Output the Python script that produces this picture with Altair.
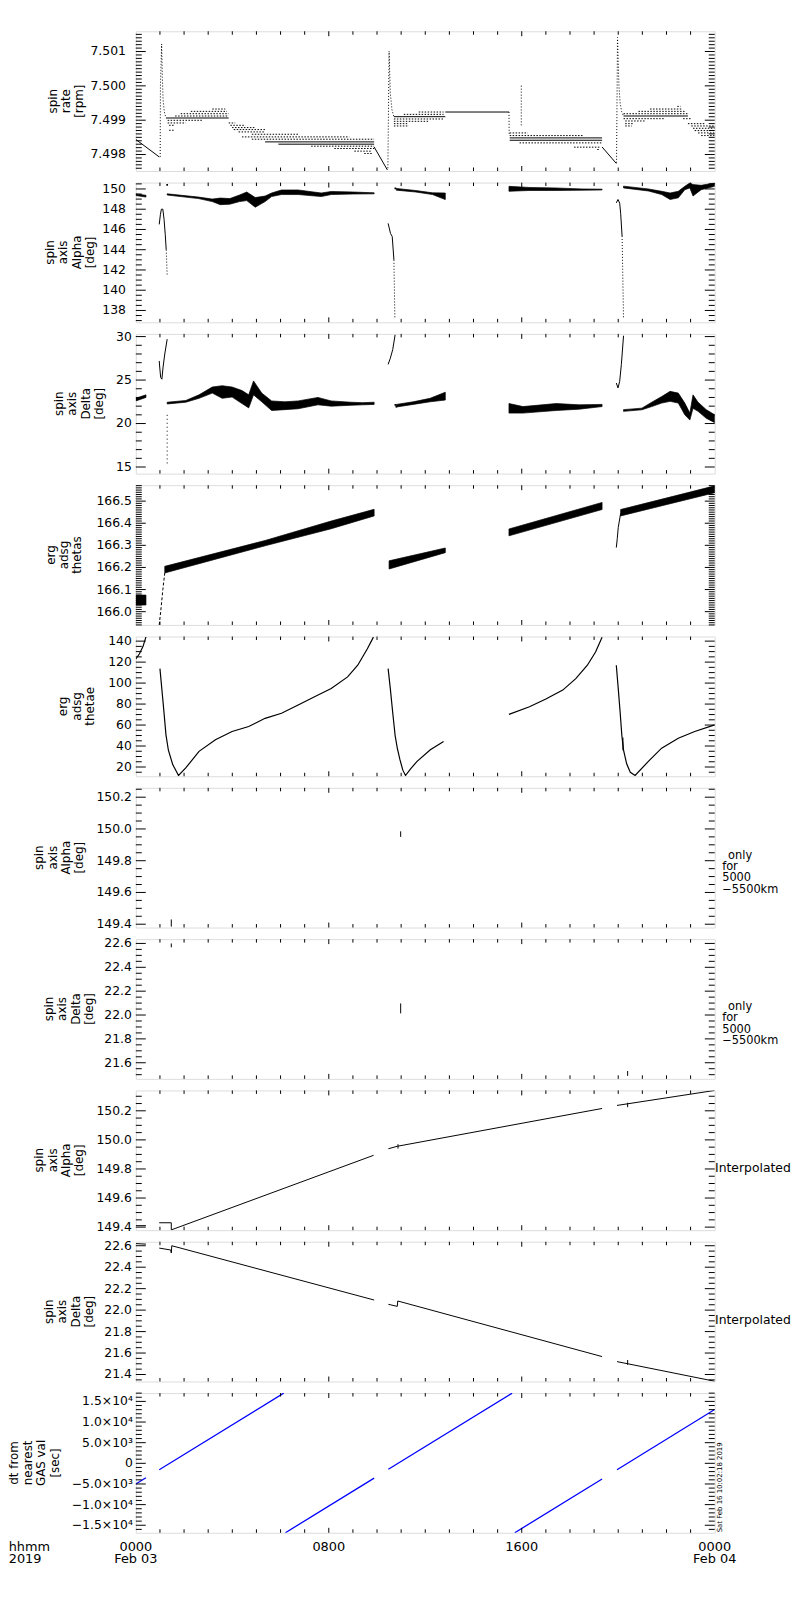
import math
import altair as alt
import pandas as pd

W = 584.2
H = 141.0
GAP = 11.7
FONT = "DejaVu Sans"
BLUE = "#0000ff"
TITLE_LH = 13.5

XS = alt.Scale(domain=[0, 24], nice=False, zero=False)

# ---------------- time axis (hours of 2019 Feb 03) ----------------
HOUR_MAJOR = [8, 16]
HOUR_MINOR = [1, 2, 3, 4, 5, 6, 7, 9, 10, 11, 12, 13, 14, 15, 17, 18, 19, 20, 21, 22, 23]
X_LABEL_VALUES = [0, 8, 16, 24]
X_LABEL_TIME = ["0000", "0800", "1600", "0000"]
X_LABEL_DATE = ["Feb 03", "", "", "Feb 04"]

# ---------------- panel 1 : spin rate [rpm] ----------------
rate_ramp_seg = ["a", "a", "b", "b", "c", "c"]
rate_ramp_h = [0.00, 0.97, 9.88, 10.43, 19.33, 19.92]
rate_ramp_v = [7.49844, 7.49793, 7.49822, 7.49755, 7.49822, 7.49774]

rate_spike_seg = ["s1"] * 7 + ["s2"] * 5 + ["s3"] * 6 + ["s4"] * 2 + ["s5"] * 2
rate_spike_h = [1.01, 1.02, 1.07, 1.10, 1.13, 1.18, 1.25,
                10.45, 10.50, 10.55, 10.62, 10.70,
                19.93, 19.97, 20.03, 20.08, 20.14, 20.22,
                15.47, 15.48, 15.98, 15.98]
rate_spike_v = [7.49793, 7.50000, 7.50122, 7.50025, 7.49960, 7.49925, 7.49906,
                7.49760, 7.50101, 7.49980, 7.49930, 7.49910,
                7.49776, 7.50141, 7.50000, 7.49950, 7.49925, 7.49912,
                7.49924, 7.49855, 7.49885, 7.50002]

rate_solid_h0 = [1.25, 5.36, 5.91, 10.70, 12.83, 15.50, 15.50, 20.22]
rate_solid_h1 = [3.85, 9.88, 9.88, 12.83, 15.47, 19.33, 19.33, 22.89]
rate_solid_v = [7.499064, 7.498368, 7.498301, 7.499102, 7.499238, 7.498484, 7.498416, 7.499122]

rate_dot_h0 = [3.17, 2.28, 1.86, 1.63, 1.32, 1.32, 1.38, 1.38,
               3.85, 3.92, 3.99, 4.06, 4.26, 4.81, 4.40, 4.81, 7.27, 8.23, 9.06, 9.47,
               11.73, 11.11, 10.70, 10.70, 10.70, 10.70,
               15.50, 15.50, 15.91, 18.17, 19.13,
               22.45, 21.32, 20.84, 20.22, 20.22, 20.29, 20.29, 20.29,
               22.69, 22.89, 23.03, 23.10, 23.17, 23.31, 23.44]
rate_dot_h1 = [3.71, 3.78, 3.85, 3.85, 2.76, 2.07, 1.59, 1.59,
               4.12, 4.54, 4.95, 5.36, 5.36, 6.73, 8.85, 9.88, 9.88, 9.88, 9.74, 9.81,
               12.76, 12.76, 12.76, 12.14, 11.25, 11.32,
               16.25, 18.58, 19.33, 19.22, 19.22,
               22.59, 22.62, 22.76, 22.89, 21.94, 21.11, 20.63, 20.56,
               23.03, 23.58, 24.00, 24.00, 24.00, 24.00, 24.00]
rate_dot_v = [7.499325, 7.499257, 7.499189, 7.499122, 7.498996, 7.498919, 7.498851, 7.498707,
              7.498919, 7.498851, 7.498784, 7.498726, 7.498658, 7.498590, 7.498513, 7.498446,
              7.498243, 7.498175, 7.498098, 7.498030,
              7.499238, 7.499170, 7.499035, 7.498967, 7.498899, 7.498832,
              7.498629, 7.498552, 7.498339, 7.498214, 7.498146,
              7.499402, 7.499325, 7.499257, 7.499189, 7.499044, 7.498977, 7.498899, 7.498832,
              7.499044, 7.498899, 7.498832, 7.498764, 7.498697, 7.498629, 7.498552]

# ---------------- panel 2 : spin axis Alpha [deg] ----------------
alpha_band_seg = ["A"] * 2 + ["B"] * 16 + ["C"] * 4 + ["D"] * 5 + ["E"] * 10
alpha_band_h = [0.00, 0.42,
                1.30, 2.60, 3.17, 3.50, 3.90, 4.30, 4.60, 4.95, 5.36, 5.63, 6.04, 6.73, 7.69, 8.10, 9.00, 9.88,
                10.80, 11.60, 12.30, 12.83,
                15.47, 16.30, 17.40, 18.50, 19.33,
                20.22, 21.25, 21.80, 22.15, 22.49, 22.76, 22.97, 23.10, 23.44, 24.00]
alpha_band_lo = [149.35, 149.20,
                 149.40, 149.05, 148.75, 148.45, 148.50, 148.75, 148.85, 148.20, 148.75, 149.25, 149.45, 149.45,
                 149.25, 149.45, 149.50, 149.52,
                 149.88, 149.70, 149.45, 148.95,
                 149.77, 149.85, 149.85, 149.88, 149.90,
                 150.10, 149.80, 149.45, 148.96, 149.12, 149.93, 150.10, 149.30, 149.93, 150.26]
alpha_band_hi = [149.50, 149.38,
                 149.52, 149.20, 149.00, 149.10, 149.05, 149.40, 149.70, 149.15, 149.30, 149.60, 149.90, 149.90,
                 149.60, 149.75, 149.70, 149.62,
                 150.05, 149.85, 149.62, 149.60,
                 150.26, 150.15, 150.10, 150.00, 149.98,
                 150.28, 150.00, 149.77, 149.60, 149.77, 150.26, 150.60, 150.43, 150.36, 150.60]

alpha_line_seg = ["A"] * 7 + ["B"] * 4 + ["C"] * 5
alpha_line_h = [0.97, 1.02, 1.06, 1.12, 1.17, 1.22, 1.26,
                10.46, 10.56, 10.63, 10.70,
                19.92, 19.99, 20.06, 20.10, 20.16]
alpha_line_v = [146.5, 147.5, 148.0, 148.0, 147.0, 145.5, 144.0,
                146.6, 145.6, 145.3, 143.0,
                148.63, 148.96, 148.6, 147.6, 145.35]

alpha_drop_seg = ["A", "A", "B", "B", "C", "C"]
alpha_drop_h = [1.26, 1.30, 10.70, 10.74, 20.16, 20.22]
alpha_drop_v = [144.0, 141.46, 143.0, 137.2, 145.35, 137.2]

alpha_dot_h = [1.30, 10.76]
alpha_dot_v = [150.4, 150.05]

# ---------------- panel 3 : spin axis Delta [deg] ----------------
delta_band_seg = ["A"] * 2 + ["B"] * 18 + ["C"] * 4 + ["D"] * 5 + ["E"] * 12
delta_band_h = [0.00, 0.42,
                1.30, 2.07, 2.62, 3.17, 3.58, 3.99, 4.40, 4.68, 4.88, 5.22, 5.63, 6.18, 6.73, 7.55, 8.10, 8.92,
                9.40, 9.88,
                10.80, 11.50, 12.20, 12.83,
                15.47, 16.05, 17.43, 18.38, 19.33,
                20.22, 20.98, 21.39, 21.80, 22.15, 22.49, 22.76, 22.97, 23.10, 23.31, 23.65, 24.00]
delta_band_lo = [22.60, 23.00,
                 22.25, 22.45, 22.90, 23.50, 22.90, 23.05, 22.30, 21.80, 23.30, 22.50, 21.50, 21.60, 21.70,
                 22.15, 22.00, 22.10, 22.15, 22.20,
                 21.90, 22.20, 22.50, 22.70,
                 21.20, 21.20, 21.50, 21.65, 21.95,
                 21.40, 21.58, 21.95, 22.35, 22.55, 22.35, 21.00, 20.40, 21.75, 21.40, 20.60, 20.10]
delta_band_hi = [22.90, 23.30,
                 22.45, 22.65, 23.30, 24.20, 24.35, 24.20, 23.80, 23.30, 24.90, 23.50, 22.60, 22.50, 22.60,
                 23.00, 22.60, 22.45, 22.40, 22.45,
                 22.20, 22.50, 22.90, 23.60,
                 22.30, 21.95, 22.30, 22.15, 22.20,
                 21.60, 21.77, 22.45, 23.10, 23.70, 23.50, 22.35, 21.20, 23.30, 22.45, 21.60, 21.00]

delta_line_seg = ["A"] * 7 + ["B"] * 4 + ["C"] * 5
delta_line_h = [0.97, 0.99, 1.03, 1.08, 1.13, 1.20, 1.30,
                10.46, 10.55, 10.65, 10.75,
                19.92, 19.99, 20.06, 20.13, 20.22]
delta_line_v = [27.2, 26.5, 25.3, 25.1, 26.5, 28.0, 29.7,
                26.8, 27.5, 28.5, 30.2,
                24.66, 24.1, 24.85, 26.8, 30.1]

delta_drop_seg = ["A", "A"]
delta_drop_h = [1.30, 1.30]
delta_drop_v = [21.0, 15.2]

delta_dot_h = [10.76, 10.80]
delta_dot_v = [22.15, 21.95]

# ---------------- panel 4 : erg adsg thetas ----------------
thetas_band_seg = ["A"] * 2 + ["B"] * 4 + ["C"] * 2 + ["D"] * 2 + ["E"] * 2
thetas_band_h = [0.00, 0.42, 1.20, 5.36, 8.10, 9.88, 10.50, 12.83, 15.47, 19.33, 20.10, 24.00]
thetas_band_lo = [166.03, 166.03, 166.175, 166.298, 166.375, 166.433, 166.193, 166.267, 166.343, 166.462, 166.433, 166.538]
thetas_band_hi = [166.075, 166.075, 166.205, 166.322, 166.410, 166.463, 166.230, 166.288, 166.374, 166.494, 166.462, 166.569]

thetas_rise_seg = ["A"] * 4
thetas_rise_h = [0.97, 1.05, 1.12, 1.20]
thetas_rise_v = [165.94, 166.02, 166.10, 166.175]

thetas_line_seg = ["C"] * 4
thetas_line_h = [19.92, 19.96, 20.00, 20.10]
thetas_line_v = [166.29, 166.33, 166.38, 166.445]

# ---------------- panel 5 : erg adsg thetae ----------------
thetae_seg = ["A"] * 4 + ["B"] * 20 + ["C"] * 12 + ["D"] * 8 + ["E"] * 13 + ["F"] * 2
thetae_h = [0.00, 0.15, 0.30, 0.42,
            1.00, 1.14, 1.25, 1.35, 1.53, 1.77, 2.07, 2.62, 3.30, 3.99, 4.68, 5.36, 6.04, 6.73, 7.41, 8.10,
            8.78, 9.20, 9.60, 9.85,
            10.46, 10.55, 10.65, 10.75, 10.84, 10.95, 11.07, 11.18, 11.40, 11.66, 12.21, 12.76,
            15.47, 16.32, 17.00, 17.70, 18.24, 18.72, 19.06, 19.33,
            19.92, 20.00, 20.08, 20.15, 20.22, 20.35, 20.50, 20.70, 21.25, 21.80, 22.49, 23.17, 24.00,
            20.19, 20.20]
thetae_v = [123.0, 128.0, 135.0, 144.0,
            113.8, 79.1, 50.7, 36.0, 22.3, 11.9, 19.1, 34.9, 46.0, 53.8, 58.6, 66.4, 71.2, 79.1, 87.0, 94.8,
            105.9, 117.0, 132.7, 143.8,
            113.8, 95.0, 72.0, 50.0, 38.0, 27.0, 17.0, 11.9, 18.5, 25.4, 36.5, 44.4,
            70.2, 77.5, 84.8, 93.3, 104.3, 117.0, 129.6, 143.8,
            117.0, 95.0, 72.0, 50.0, 36.0, 23.0, 15.0, 11.9, 25.4, 38.0, 47.5, 53.8, 60.2,
            48.0, 36.0]

# ---------------- panels 6,7 : only for 5000-5500 km ----------------
alpha55_seg = ["A", "A", "B", "B"]
alpha55_h = [1.47, 1.47, 10.98, 10.98]
alpha55_v = [149.385, 149.43, 149.95, 149.985]

delta55_seg = ["A", "A", "B", "B", "C", "C"]
delta55_h = [1.47, 1.47, 10.98, 10.98, 20.39, 20.39]
delta55_v = [22.567, 22.60, 22.014, 22.097, 21.49, 21.531]

# ---------------- panels 8,9 : interpolated ----------------
alpha_int_seg = ["A"] * 2 + ["B"] * 4 + ["C"] * 3 + ["D"] * 2 + ["E"] * 2 + ["F"] * 2
alpha_int_h = [0.00, 0.42, 0.97, 1.47, 1.47, 9.86, 10.47, 10.84, 19.33, 19.95, 24.00,
               10.87, 10.87, 20.39, 20.39]
alpha_int_v = [149.41, 149.41, 149.43, 149.43, 149.381, 149.894, 149.939, 149.956, 150.216, 150.237, 150.34,
               149.94, 149.97, 150.225, 150.255]

delta_int_seg = ["A"] * 2 + ["B"] * 5 + ["C"] * 4 + ["D"] * 2 + ["E"] * 2
delta_int_h = [0.00, 0.42, 0.97, 1.45, 1.47, 1.49, 9.88, 10.47, 10.84, 10.86, 19.33, 19.95, 24.00,
               20.39, 20.39]
delta_int_v = [22.62, 22.615, 22.578, 22.560, 22.532, 22.600, 22.094, 22.054, 22.035, 22.085, 21.567,
               21.520, 21.337, 21.49, 21.535]

# ---------------- panel 10 : dt from nearest GAS val [sec] ----------------
dt_seg = ["A", "A", "B", "B", "C", "C", "D", "D", "E", "E", "F", "F"]
dt_h = [0.00, 0.42, 0.97, 6.13, 6.20, 9.88, 10.47, 15.60, 15.71, 19.33, 19.95, 24.00]
dt_v = [-5000, -3490, -1550, 17000, -16820, -3580, -1440, 17000, -16820, -3780, -1550, 13030]

# ---------------- panel settings (domains, tick values, tick labels, titles) ----------------
PANELS = [
    dict(domain=[7.49752, 7.50159], major=[7.498, 7.499, 7.500, 7.501], step=0.0001,
         labels=["7.498", "7.499", "7.500", "7.501"],
         title=["spin", "rate", "[rpm]"], lp=10, tx=-50),
    dict(domain=[136.83, 150.63], major=[138, 140, 142, 144, 146, 148, 150], step=0.5,
         labels=["138", "140", "142", "144", "146", "148", "150"],
         title=["spin", "axis", "Alpha", "[deg]"], lp=10, tx=-39),
    dict(domain=[14.24, 30.31], major=[15, 20, 25, 30], step=1,
         labels=["15", "20", "25", "30"],
         title=["spin", "axis", "Delta", "[deg]"], lp=4, tx=-30),
    dict(domain=[165.940, 166.572], major=[166.0, 166.1, 166.2, 166.3, 166.4, 166.5], step=0.01,
         labels=["166.0", "166.1", "166.2", "166.3", "166.4", "166.5"],
         title=["erg", "adsg", "thetas"], lp=4, tx=-52),
    dict(domain=[11.2, 144.4], major=[20, 40, 60, 80, 100, 120, 140], step=5,
         labels=["20", "40", "60", "80", "100", "120", "140"],
         title=["erg", "adsg", "thetae"], lp=4, tx=-39),
    dict(domain=[149.379, 150.259], major=[149.4, 149.6, 149.8, 150.0, 150.2], step=0.05,
         labels=["149.4", "149.6", "149.8", "150.0", "150.2"],
         title=["spin", "axis", "Alpha", "[deg]"], lp=4, tx=-50),
    dict(domain=[21.465, 22.636], major=[21.6, 21.8, 22.0, 22.2, 22.4, 22.6], step=0.05,
         labels=["21.6", "21.8", "22.0", "22.2", "22.4", "22.6"],
         title=["spin", "axis", "Delta", "[deg]"], lp=4, tx=-40),
    dict(domain=[149.379, 150.34], major=[149.4, 149.6, 149.8, 150.0, 150.2], step=0.05,
         labels=["149.4", "149.6", "149.8", "150.0", "150.2"],
         title=["spin", "axis", "Alpha", "[deg]"], lp=4, tx=-50),
    dict(domain=[21.335, 22.637], major=[21.4, 21.6, 21.8, 22.0, 22.2, 22.4, 22.6], step=0.05,
         labels=["21.4", "21.6", "21.8", "22.0", "22.2", "22.4", "22.6"],
         title=["spin", "axis", "Delta", "[deg]"], lp=4, tx=-40),
    dict(domain=[-16824, 17016], major=[-15000, -10000, -5000, 0, 5000, 10000, 15000], step=1000,
         labels=["\u22121.5\u00d710\u2074", "\u22121.0\u00d710\u2074", "\u22125.0\u00d710\u00b3", "0",
                 "5.0\u00d710\u00b3", "1.0\u00d710\u2074", "1.5\u00d710\u2074"],
         title=["dt from", "nearest", "GAS val", "[sec]"], lp=3, tx=-75),
]


def minor_ticks(lo, hi, step, major):
    out = []
    for k in range(math.ceil(lo / step - 1e-9), math.floor(hi / step + 1e-9) + 1):
        v = round(k * step, 6)
        if not any(abs(v - m) < step * 0.01 for m in major):
            out.append(v)
    return out


def X(field):
    return alt.X(f"{field}:Q", scale=XS, axis=None)


def Y(field, ys):
    return alt.Y(f"{field}:Q", scale=ys, axis=None)


def poly_df(seg, h, v):
    return pd.DataFrame({"seg": seg, "h": h, "v": v, "i": list(range(len(h)))})


def lines(seg, h, v, ys, color="black", dash=None, width=1.0):
    kw = dict(color=color, strokeWidth=width, clip=True)
    if dash:
        kw["strokeDash"] = dash
    return alt.Chart(poly_df(seg, h, v)).mark_line(**kw).encode(
        x=X("h"), y=Y("v", ys), detail="seg:N", order="i:Q")


def bands(seg, h, lo, hi, ys):
    df = pd.DataFrame({"seg": seg, "h": h, "lo": lo, "hi": hi})
    return alt.Chart(df).mark_area(color="black", stroke="black", strokeWidth=0.7, clip=True).encode(
        x=X("h"), y=Y("lo", ys), y2=alt.Y2("hi:Q"), detail="seg:N")


def levels(h0, h1, v, ys, dash=None):
    kw = dict(color="black", strokeWidth=1, clip=True)
    if dash:
        kw["strokeDash"] = dash
    df = pd.DataFrame({"h0": h0, "h1": h1, "v": v})
    return alt.Chart(df).mark_rule(**kw).encode(x=X("h0"), x2=alt.X2("h1:Q"), y=Y("v", ys))


def dots(h, v, ys):
    df = pd.DataFrame({"h": h, "v": v})
    return alt.Chart(df).mark_square(size=3, color="black", opacity=1, clip=True).encode(
        x=X("h"), y=Y("v", ys))


def yticks(vals, ys, length, side):
    df = pd.DataFrame({"v": vals})
    if side == "left":
        xx = dict(x=alt.value(0), x2=alt.value(length))
    else:
        xx = dict(x=alt.value(W - length), x2=alt.value(W))
    return alt.Chart(df).mark_rule(color="black", strokeWidth=1).encode(y=Y("v", ys), **xx)


def xticks(vals, length, side):
    df = pd.DataFrame({"h": vals})
    if side == "top":
        yy = dict(y=alt.value(0), y2=alt.value(length))
    else:
        yy = dict(y=alt.value(H - length), y2=alt.value(H))
    return alt.Chart(df).mark_rule(color="black", strokeWidth=1).encode(x=X("h"), **yy)


def ylabels(p, ys):
    df = pd.DataFrame({"v": p["major"], "t": p["labels"]})
    return alt.Chart(df).mark_text(align="right", baseline="middle", font=FONT, fontSize=12.5,
                                   color="black").encode(
        y=Y("v", ys), x=alt.value(-p["lp"]), text="t:N")


def xlabels():
    df = pd.DataFrame({"h": X_LABEL_VALUES,
                       "t": [a + "\n" + b for a, b in zip(X_LABEL_TIME, X_LABEL_DATE)]})
    return alt.Chart(df).mark_text(align="center", baseline="alphabetic", font=FONT, fontSize=13,
                                   lineBreak="\n", lineHeight=12, color="black").encode(
        x=X("h"), y=alt.value(H + 18.4), text="t:N")


def text_layer(text, x, y, size, align="left", baseline="alphabetic", angle=None, line_height=None):
    kw = dict(align=align, baseline=baseline, font=FONT, fontSize=size, color="black", lineBreak="\n")
    if angle is not None:
        kw["angle"] = angle
    if line_height is not None:
        kw["lineHeight"] = line_height
    return alt.Chart(pd.DataFrame({"t": [text]})).mark_text(**kw).encode(
        text="t:N", x=alt.value(x), y=alt.value(y))


def frame(p, ys):
    minor = minor_ticks(p["domain"][0], p["domain"][1], p["step"], p["major"])
    n = len(p["title"])
    return [
        yticks(p["major"], ys, 10, "left"),
        yticks(minor, ys, 6, "left"),
        yticks(p["major"], ys, 10, "right"),
        yticks(minor, ys, 6, "right"),
        xticks(HOUR_MAJOR, 5, "top"),
        xticks(HOUR_MINOR, 3.5, "top"),
        xticks(HOUR_MAJOR, 5, "bottom"),
        xticks(HOUR_MINOR, 3.5, "bottom"),
        ylabels(p, ys),
        text_layer("\n".join(p["title"]), p["tx"] - (n - 1) * TITLE_LH, H / 2, 12, align="center",
                   baseline="bottom", angle=270, line_height=TITLE_LH),
    ]


DOT = [1.5, 1.5]
charts = []
for idx, p in enumerate(PANELS):
    ys = alt.Scale(domain=p["domain"], nice=False, zero=False)
    L = []
    extra = []
    if idx == 0:
        L = [levels(rate_solid_h0, rate_solid_h1, rate_solid_v, ys),
             levels(rate_dot_h0, rate_dot_h1, rate_dot_v, ys, DOT),
             lines(rate_ramp_seg, rate_ramp_h, rate_ramp_v, ys),
             lines(rate_spike_seg, rate_spike_h, rate_spike_v, ys, dash=[1, 2])]
    elif idx == 1:
        L = [bands(alpha_band_seg, alpha_band_h, alpha_band_lo, alpha_band_hi, ys),
             lines(alpha_line_seg, alpha_line_h, alpha_line_v, ys),
             lines(alpha_drop_seg, alpha_drop_h, alpha_drop_v, ys, dash=[1, 2]),
             dots(alpha_dot_h, alpha_dot_v, ys)]
    elif idx == 2:
        L = [bands(delta_band_seg, delta_band_h, delta_band_lo, delta_band_hi, ys),
             lines(delta_line_seg, delta_line_h, delta_line_v, ys),
             lines(delta_drop_seg, delta_drop_h, delta_drop_v, ys, dash=[1, 3]),
             dots(delta_dot_h, delta_dot_v, ys)]
    elif idx == 3:
        L = [bands(thetas_band_seg, thetas_band_h, thetas_band_lo, thetas_band_hi, ys),
             lines(thetas_rise_seg, thetas_rise_h, thetas_rise_v, ys, dash=[3, 2]),
             lines(thetas_line_seg, thetas_line_h, thetas_line_v, ys)]
    elif idx == 4:
        L = [lines(thetae_seg, thetae_h, thetae_v, ys, width=1.2)]
    elif idx == 5:
        L = [lines(alpha55_seg, alpha55_h, alpha55_v, ys)]
        extra = [text_layer("only", W + 13.5, 71.7, 11.5),
                 text_layer("for\n5000\n\u22125500km", W + 7.5, 82.7, 11.5, line_height=11.7)]
    elif idx == 6:
        L = [lines(delta55_seg, delta55_h, delta55_v, ys)]
        extra = [text_layer("only", W + 13.5, 71.7, 11.5),
                 text_layer("for\n5000\n\u22125500km", W + 7.5, 82.7, 11.5, line_height=11.7)]
    elif idx == 7:
        L = [lines(alpha_int_seg, alpha_int_h, alpha_int_v, ys)]
        extra = [text_layer("Interpolated", W + 0.3, 82.7, 12.5)]
    elif idx == 8:
        L = [lines(delta_int_seg, delta_int_h, delta_int_v, ys)]
        extra = [text_layer("Interpolated", W + 0.3, 83.4, 12.5)]
    elif idx == 9:
        L = [lines(dt_seg, dt_h, dt_v, ys, color=BLUE, width=1.3)]
        extra = [xlabels(),
                 text_layer("hhmm\n2019", -128.3, 159.4, 13, line_height=12),
                 text_layer("Sat Feb 16 10:02:18 2019", W + 1.5, H - 0.5, 7,
                            baseline="top", angle=270)]
    layer = alt.layer(*L, *frame(p, ys), *extra).properties(width=W, height=H)
    charts.append(layer)

chart = alt.vconcat(*charts, spacing=GAP, bounds="flush").properties(
    padding={"left": 0, "top": 15.3, "right": 0, "bottom": 0}
).configure_view(stroke="black", strokeWidth=1).configure(background="white")

chart.save("out.html", embed_options={"renderer": "svg", "actions": False})
